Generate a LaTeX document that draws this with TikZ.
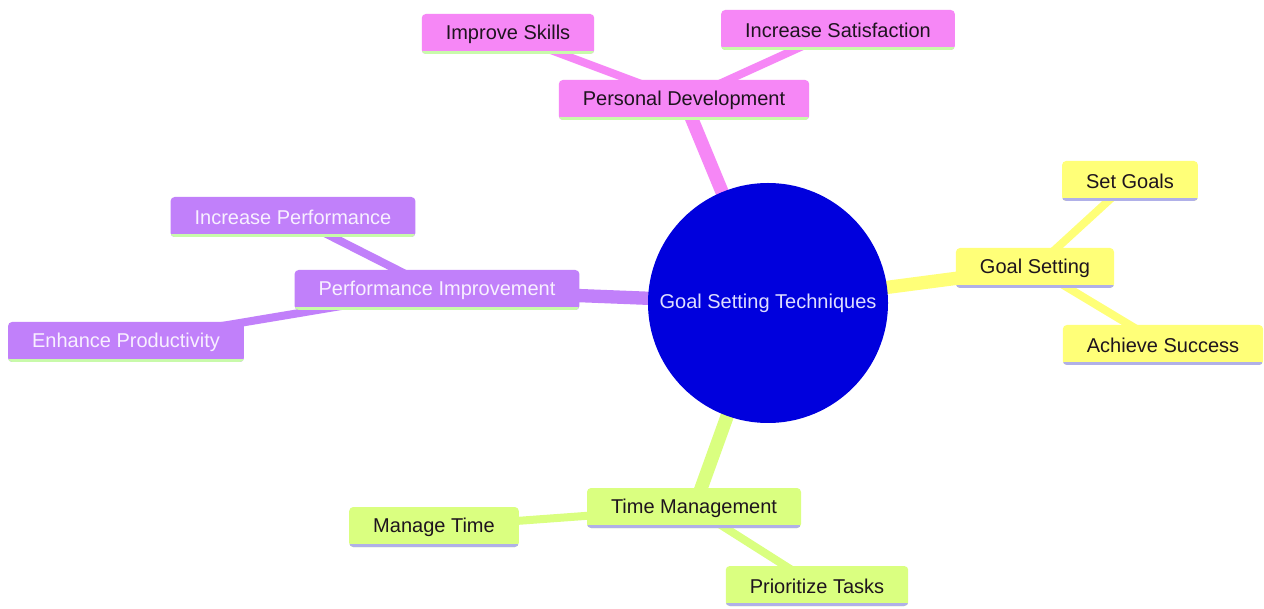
\documentclass[tikz,border=0pt]{standalone}
\usepackage{fontspec}
\setmainfont{Liberation Sans}
\usetikzlibrary{backgrounds}
\definecolor{rootblue}{RGB}{0,0,221}
\definecolor{roottext}{RGB}{222,222,255}
\definecolor{pinkfill}{RGB}{246,135,246}
\definecolor{purplefill}{RGB}{193,128,250}
\definecolor{yellowfill}{RGB}{255,255,120}
\definecolor{greenfill}{RGB}{218,255,128}
\definecolor{greenline}{RGB}{200,250,170}
\definecolor{lavline}{RGB}{176,176,232}
\definecolor{darktext}{RGB}{30,20,30}
\definecolor{lighttext}{RGB}{248,240,255}
\tikzset{
  topic/.style={rectangle, rounded corners=3pt, inner xsep=18pt, inner ysep=0pt,
    minimum height=30pt, font=\fontsize{15pt}{18pt}\selectfont},
  ul/.style={path picture={\draw[line width=5pt, #1]
      (path picture bounding box.south west) -- (path picture bounding box.south east);}},
  pinknode/.style={topic, fill=pinkfill, text=darktext, ul=greenline},
  purplenode/.style={topic, fill=purplefill, text=lighttext, ul=greenline},
  yellownode/.style={topic, fill=yellowfill, text=darktext, ul=lavline},
  greennode/.style={topic, fill=greenfill, text=darktext, ul=lavline},
  trunk/.style={line width=10pt, #1},
  twig/.style={line width=6pt, #1},
}
\begin{document}
\begin{tikzpicture}[x=0.75pt, y=-0.75pt]
\useasboundingbox (0,0) rectangle (1264,609);

% central topic
\node[circle, fill=rootblue, minimum size=180pt, inner sep=0pt, text=roottext,
  font=\fontsize{15pt}{18pt}\selectfont] (root) at (768,303) {Goal Setting Techniques};

% main branches
\node[pinknode] (pd) at (684,100) {Personal Development};
\node[yellownode] (gs) at (1035,268) {Goal Setting};
\node[purplenode] (pi) at (437,290) {Performance Improvement};
\node[greennode] (tm) at (694,508) {Time Management};

% leaves
\node[pinknode] (is) at (508,34) {Improve Skills};
\node[pinknode] (sat) at (838,30) {Increase Satisfaction};
\node[yellownode] (sg) at (1130,181) {Set Goals};
\node[yellownode] (as) at (1163,345) {Achieve Success};
\node[purplenode] (ip) at (293,217) {Increase Performance};
\node[purplenode] (ep) at (126,342) {Enhance Productivity};
\node[greennode] (mt) at (434,527) {Manage Time};
\node[greennode] (pt) at (817,586) {Prioritize Tasks};

% white page, then connectors, all behind the nodes
\begin{scope}[on background layer]
  \fill[white] (0,0) rectangle (1264,609);
  \draw[trunk=pinkfill] (root.center) -- (pd.center);
  \draw[trunk=yellowfill] (root.center) -- (gs.center);
  \draw[trunk=purplefill] (root.center) -- (pi.center);
  \draw[trunk=greenfill] (root.center) -- (tm.center);
  \draw[twig=pinkfill] (pd.center) -- (is.center);
  \draw[twig=pinkfill] (pd.center) -- (sat.center);
  \draw[twig=yellowfill] (gs.center) -- (sg.center);
  \draw[twig=yellowfill] (gs.center) -- (as.center);
  \draw[twig=purplefill] (pi.center) -- (ip.center);
  \draw[twig=purplefill] (pi.center) -- (ep.center);
  \draw[twig=greenfill] (tm.center) -- (mt.center);
  \draw[twig=greenfill] (tm.center) -- (pt.center);
\end{scope}
\end{tikzpicture}
\end{document}
